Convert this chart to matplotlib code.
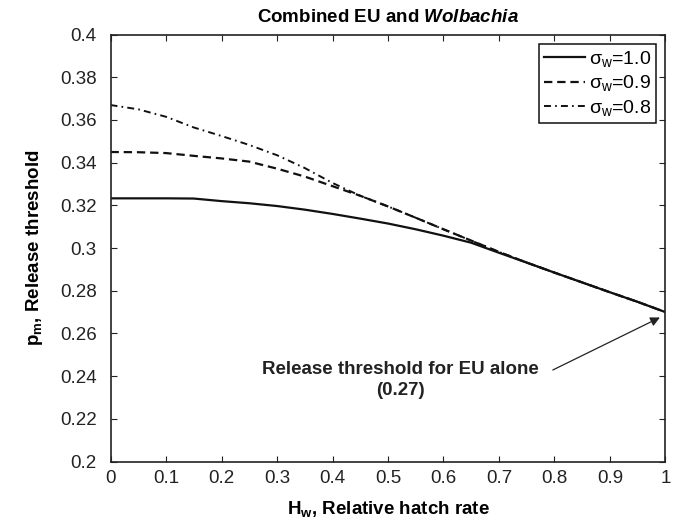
import matplotlib
matplotlib.use('Agg')
import matplotlib.pyplot as plt

plt.rcParams['font.family'] = ['Liberation Sans', 'DejaVu Sans']
plt.rcParams['mathtext.fontset'] = 'custom'
plt.rcParams['mathtext.rm'] = 'Liberation Sans'
plt.rcParams['mathtext.it'] = 'Liberation Sans:italic'
plt.rcParams['mathtext.bf'] = 'Liberation Sans:bold'
plt.rcParams['mathtext.bfit'] = 'Liberation Sans:bold:italic'
plt.rcParams['lines.scale_dashes'] = False

# Relative hatch rate
hw = [0.0, 0.05, 0.1, 0.15, 0.2, 0.25, 0.3, 0.35, 0.4, 0.45, 0.5,
      0.55, 0.6, 0.65, 0.7, 0.75, 0.8, 0.85, 0.9, 0.95, 1.0]

# Release thresholds for each sigma_w
sigma10 = [0.3233, 0.3233, 0.3233, 0.3232, 0.3220, 0.3210, 0.3197, 0.3180, 0.3160, 0.3138, 0.3115,
           0.3088, 0.3058, 0.3025, 0.2978, 0.2932, 0.2885, 0.2839, 0.2793, 0.2748, 0.2700]
sigma09 = [0.3450, 0.3449, 0.3445, 0.3432, 0.3420, 0.3405, 0.3372, 0.3335, 0.3290, 0.3245, 0.3195,
           0.3142, 0.3088, 0.3035, 0.2982, 0.2932, 0.2885, 0.2839, 0.2793, 0.2748, 0.2700]
sigma08 = [0.3670, 0.3650, 0.3615, 0.3565, 0.3525, 0.3483, 0.3435, 0.3375, 0.3305, 0.3245, 0.3195,
           0.3142, 0.3088, 0.3035, 0.2982, 0.2932, 0.2885, 0.2839, 0.2793, 0.2748, 0.2700]

labels = [r'σ$_\mathrm{w}$=1.0', r'σ$_\mathrm{w}$=0.9', r'σ$_\mathrm{w}$=0.8']

fig = plt.figure(figsize=(6.81, 5.28), dpi=100)
ax = fig.add_axes([0.1623, 0.1258, 0.8149, 0.8087])

ax.plot(hw, sigma10, color='#111111', lw=1.6, linestyle='-', label=labels[0])
ax.plot(hw, sigma09, color='#111111', lw=1.6, dashes=(6, 3.5), label=labels[1])
ax.plot(hw, sigma08, color='#111111', lw=1.4, dashes=(5, 3, 1.2, 3), label=labels[2])

ax.set_xlim(0, 1)
ax.set_ylim(0.2, 0.4)
ax.set_xticks([0, 0.1, 0.2, 0.3, 0.4, 0.5, 0.6, 0.7, 0.8, 0.9, 1])
ax.set_xticklabels(['0', '0.1', '0.2', '0.3', '0.4', '0.5', '0.6', '0.7', '0.8', '0.9', '1'])
ax.set_yticks([0.2, 0.22, 0.24, 0.26, 0.28, 0.3, 0.32, 0.34, 0.36, 0.38, 0.4])
ax.set_yticklabels(['0.2', '0.22', '0.24', '0.26', '0.28', '0.3', '0.32', '0.34', '0.36', '0.38', '0.4'])
ax.tick_params(direction='in', top=True, right=True, length=4.3, width=0.8,
               labelsize=13.5, colors='#222222')
ax.tick_params(axis='y', pad=10)
ax.tick_params(axis='x', pad=6)
for s in ax.spines.values():
    s.set_linewidth(1.2)
    s.set_color('#222222')

ax.set_xlabel(r'$\mathbf{H_w}$, Relative hatch rate', fontsize=13.5, fontweight='bold', labelpad=9)
ax.set_ylabel(r'$\mathbf{p_m}$, Release threshold', fontsize=13.5, fontweight='bold', labelpad=11)
ax.set_title(r'Combined EU and $\mathbfit{Wolbachia}$', fontsize=13.5, fontweight='bold', pad=9)

leg = ax.legend(loc='upper right', fontsize=14, handlelength=2.1, handletextpad=0.2,
                labelspacing=0.22, borderpad=0.25, fancybox=False, framealpha=1,
                borderaxespad=0.5)
leg.get_frame().set_edgecolor('#111111')
leg.get_frame().set_linewidth(1.1)

ax.text(0.522, 0.2382, 'Release threshold for EU alone\n(0.27)', ha='center', va='center',
        fontsize=13.5, fontweight='bold', color='#222222', linespacing=1.25)
ax.annotate('', xy=(0.99, 0.2675), xytext=(0.797, 0.2429),
            arrowprops=dict(arrowstyle='-|>', color='#222222', lw=0.9,
                            mutation_scale=14, shrinkA=0, shrinkB=0))

fig.savefig('out.png', dpi=100)
